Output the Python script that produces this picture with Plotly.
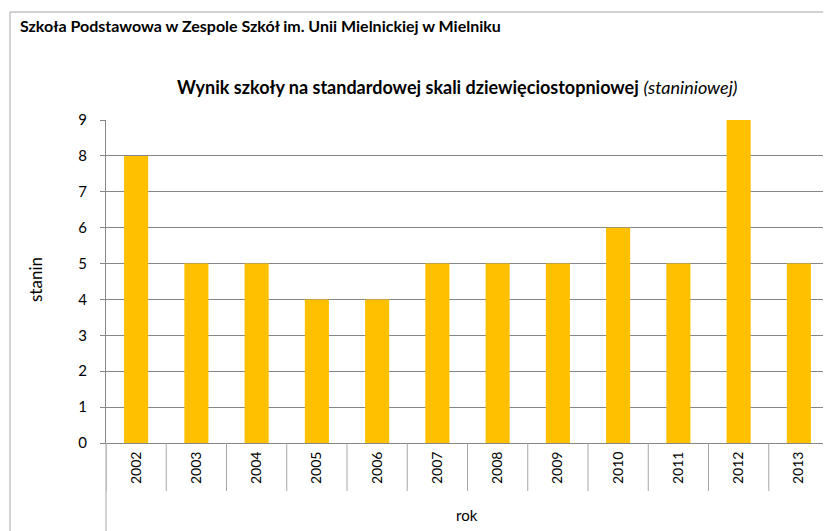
import plotly.graph_objects as go

years = ["2002", "2003", "2004", "2005", "2006", "2007", "2008", "2009", "2010", "2011", "2012", "2013"]
stanin = [8, 5, 5, 4, 4, 5, 5, 5, 6, 5, 9, 5]
y_ticks = [0, 1, 2, 3, 4, 5, 6, 7, 8, 9]

OFF = 8  # page body margin offset
W, H = 831 - OFF, 531 - OFF
L, R, T, B = 106 - OFF, 829 - OFF, 120 - OFF, 443 - OFF
pw, ph = R - L, B - T

def px(x):
    return (x - OFF - L) / pw

def py(y):
    return (B - (y - OFF)) / ph

fig = go.Figure()
fig.add_trace(go.Bar(x=years, y=stanin, marker=dict(color="#FFC000", line=dict(width=0)), hoverinfo="x+y"))

border = dict(color="#A6A6A6", width=1)
shapes = []
# outer border (four sides)
shapes.append(dict(type="line", xref="paper", yref="paper", x0=px(10), x1=px(828), y0=py(12), y1=py(12), line=border))
shapes.append(dict(type="line", xref="paper", yref="paper", x0=px(10), x1=px(10), y0=py(12), y1=py(545), line=border))
shapes.append(dict(type="line", xref="paper", yref="paper", x0=px(828), x1=px(828), y0=py(12), y1=py(545), line=border))
# category separators
for i in range(len(years) + 1):
    shapes.append(dict(type="line", xref="x", yref="paper", x0=i - 0.5, x1=i - 0.5,
                       y0=0, y1=py(491), line=border))
# left vertical line down to bottom
shapes.append(dict(type="line", xref="paper", yref="paper", x0=0, x1=0, y0=0, y1=py(540), line=border))

annotations = [
    dict(text="<b>Szkoła Podstawowa w Zespole Szkół im. Unii Mielnickiej w Mielniku</b>",
         xref="paper", yref="paper", x=px(18), y=py(26), xanchor="left", yanchor="middle",
         showarrow=False, font=dict(family="Lato", size=16, color="#000000")),
    dict(text="<b>Wynik szkoły na standardowej skali dziewięciostopniowej</b> <i>(staniniowej)</i>",
         xref="paper", yref="paper", x=px(457), y=py(87), xanchor="center", yanchor="middle",
         showarrow=False, font=dict(family="Lato", size=18, color="#000000")),
    dict(text="stanin", xref="paper", yref="paper", x=px(35), y=py(280), textangle=-90,
         xanchor="center", yanchor="middle", showarrow=False,
         font=dict(family="Lato", size=17, color="#000000")),
    dict(text="rok", xref="paper", yref="paper", x=px(467), y=py(515),
         xanchor="center", yanchor="middle", showarrow=False,
         font=dict(family="Lato", size=15, color="#000000")),
]

fig.update_layout(
    width=W, height=H,
    margin=dict(l=L, r=W - R, t=T, b=H - B, pad=0),
    paper_bgcolor="white", plot_bgcolor="white",
    bargap=0.6,
    showlegend=False,
    shapes=shapes,
    annotations=annotations,
    xaxis=dict(type="category", showgrid=False, showline=True, linecolor="#868686", linewidth=1,
               ticks="", tickangle=-90, tickfont=dict(family="Lato", size=14, color="#000000"),
               ticklabelstandoff=2, range=[-0.5, 11.5], fixedrange=True),
    yaxis=dict(range=[0, 9], tickvals=y_ticks, showgrid=True, gridcolor="#868686", gridwidth=1,
               showline=True, linecolor="#868686", linewidth=1, ticks="outside", ticklen=5,
               tickcolor="#868686", tickfont=dict(family="Lato", size=15, color="#000000"),
               ticklabelstandoff=10, zeroline=False, fixedrange=True),
)

fig.write_html("out.html")
